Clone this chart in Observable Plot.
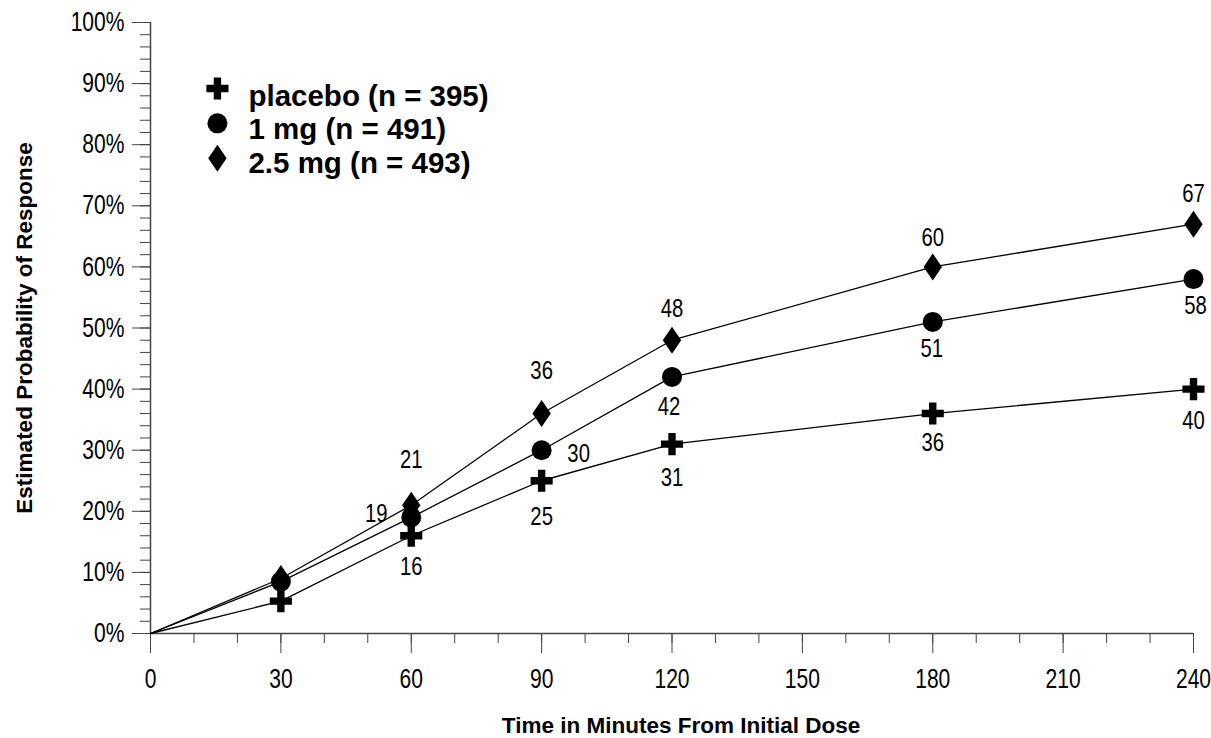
<!DOCTYPE html>
<html><head><meta charset="utf-8">
<script src="https://cdn.jsdelivr.net/npm/d3@7"></script>
<script src="https://cdn.jsdelivr.net/npm/@observablehq/plot@0.6"></script>
<style>body{margin:0;background:#fff}</style>
</head><body><div id="chart"></div>
<script>
// ---- data ----
const minutes = [0, 30, 60, 90, 120, 180, 240];
const placebo = [0, 5.3, 16, 25, 31, 36, 40];
const mg1 = [0, 8.5, 19, 30, 42, 51, 58];
const mg25 = [0, 9, 21, 36, 48, 60, 67];
const seriesNames = ["placebo (n = 395)", "1 mg (n = 491)", "2.5 mg (n = 493)"];
const xTicks = [0, 30, 60, 90, 120, 150, 180, 210, 240];
const yTicks = [0, 10, 20, 30, 40, 50, 60, 70, 80, 90, 100];
const labelMinutes = [60, 90, 120, 180, 240];

// ---- layout (not data) ----
// "Arimo" in the list marks texts that get horizontally condensed below
const COND = "'Liberation Sans',Arimo,sans-serif";
const BOLD = "'Liberation Sans',Arial,sans-serif";
const offPlacebo = [[0,31],[0,36],[0,34],[0,29],[0,32]];
const offMg1 = [[-35,-4],[37,3],[-3,30],[-1,27],[2,27]];
const offMg25 = [[0,-46],[0,-43],[0,-32],[0,-29],[0,-30]];

const diamondSym = {draw(ctx, size) {
  const r = Math.sqrt(size / Math.PI), h = r * 1.35, w = r * 0.92;
  ctx.moveTo(0, -h); ctx.lineTo(w, 0); ctx.lineTo(0, h); ctx.lineTo(-w, 0); ctx.closePath();
}};

function rows(vals) { return minutes.map((m, i) => ({m, v: vals[i]})); }
function labelRows(vals, offs) {
  return labelMinutes.map((m, k) => {
    const i = minutes.indexOf(m);
    return {m, v: vals[i], t: String(Math.round(vals[i])), dx: offs[k][0], dy: offs[k][1]};
  });
}
const series = [
  {vals: placebo, sym: d3.symbolCross, r: 9.3, offs: offPlacebo},
  {vals: mg1, sym: "circle", r: 10, offs: offMg1},
  {vals: mg25, sym: diamondSym, r: 10, offs: offMg25}
];

const marks = [];
marks.push(Plot.axisX({ticks: d3.range(0, 241, 10), tickSize: 10, tickFormat: () => "", label: null, stroke: "#444"}));
marks.push(Plot.axisX({ticks: xTicks, tickSize: 20, tickPadding: 15, label: null, stroke: "#444",
  fontSize: 27, fontFamily: COND, fill: "#000"}));
marks.push(Plot.axisY({ticks: d3.range(0, 101, 2), tickSize: 10, tickFormat: () => "", label: null, stroke: "#444"}));
marks.push(Plot.axisY({ticks: yTicks, tickSize: 18, tickPadding: 8, tickFormat: d => d + "%", label: null,
  stroke: "#444", fontSize: 27, fontFamily: COND, fill: "#000"}));
marks.push(Plot.ruleY([0], {stroke: "#444", strokeWidth: 1.5}));
marks.push(Plot.ruleX([0], {stroke: "#444", strokeWidth: 1.5}));

for (const s of series) {
  marks.push(Plot.line(rows(s.vals), {x: "m", y: "v", stroke: "#000", strokeWidth: 1.3}));
}
for (const s of series) {
  const d = rows(s.vals).filter(r => r.m > 0);
  marks.push(Plot.dot(d, {x: "m", y: "v", symbol: s.sym, r: s.r, fill: "#000", stroke: null}));
  for (const l of labelRows(s.vals, s.offs)) {
    marks.push(Plot.text([l], {x: "m", y: "v", text: "t", dx: l.dx, dy: l.dy,
      fontSize: 26, fontFamily: COND, fill: "#000"}));
  }
}

// legend
const legendX = 15.4, legendY0 = 89.2, legendStep = 5.7;
seriesNames.forEach((name, i) => {
  const s = series[i];
  const row = [{m: legendX, v: legendY0 - i * legendStep, t: name}];
  marks.push(Plot.dot(row, {x: "m", y: "v", symbol: s.sym, r: s.r, fill: "#000", stroke: null}));
  marks.push(Plot.text(row, {x: "m", y: "v", text: "t", dx: 31, dy: 8 - i * 1.5, textAnchor: "start",
    fontSize: 29.5, fontWeight: "bold", fontFamily: BOLD, fill: "#000"}));
});

// axis titles
marks.push(Plot.text(["Time in Minutes From Initial Dose"], {frameAnchor: "bottom", dy: 99, dx: 9,
  textAnchor: "middle", fontSize: 22.5, fontWeight: "bold", fontFamily: BOLD, fill: "#000"}));
marks.push(Plot.text(["Estimated Probability of Response"], {frameAnchor: "left", dx: -126, rotate: -90,
  textAnchor: "middle", fontSize: 22.5, fontWeight: "bold", fontFamily: BOLD, fill: "#000"}));

const chart = Plot.plot({
  width: 1211, height: 738,
  marginLeft: 150, marginRight: 18, marginTop: 22, marginBottom: 105,
  x: {domain: [0, 240]},
  y: {domain: [0, 100]},
  style: {background: "#fff", overflow: "visible"},
  marks
});
// condense the tick and value labels horizontally (about their anchor point)
chart.querySelectorAll('g[font-family*="Arimo"] text').forEach(t => {
  const tr = t.getAttribute("transform") || "";
  t.setAttribute("transform", tr + " scale(0.78,1)");
});
document.getElementById("chart").appendChild(chart);
</script>
</body></html>
